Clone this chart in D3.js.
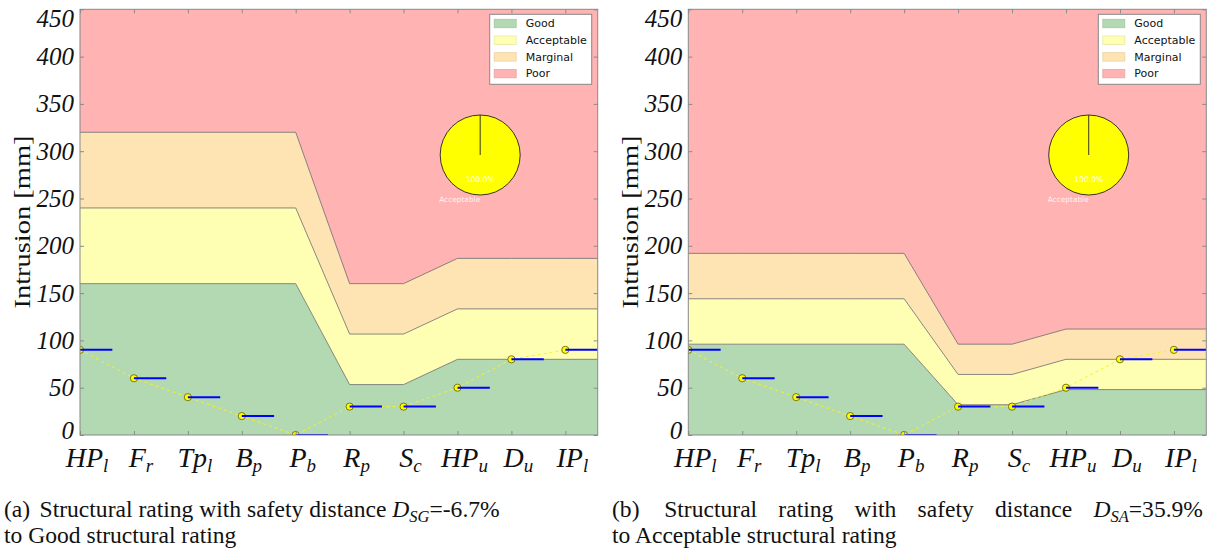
<!DOCTYPE html>
<html>
<head>
<meta charset="utf-8">
<script src="https://cdn.jsdelivr.net/npm/d3@7"></script>
<style>
  body { margin: 0; background: #fff; }
  svg { display: block; }
</style>
</head>
<body>
<svg id="chart" width="1221" height="555"></svg>
<script>
// categories as [main letters, subscript]
const categories = [["HP", "l"], ["F", "r"], ["Tp", "l"], ["B", "p"], ["P", "b"],
                    ["R", "p"], ["S", "c"], ["HP", "u"], ["D", "u"], ["IP", "l"]];
// measured intrusion, same in both panels
const intrusion = [90, 60, 40, 20, 0, 30, 30, 50, 80, 90];

// upper limits of the rating bands, panel (a)
const goodA       = [160, 160, 160, 160, 160, 53.3, 53.3, 80, 80, 80];
const acceptableA = [240, 240, 240, 240, 240, 106.7, 106.7, 133.3, 133.3, 133.3];
const marginalA   = [320, 320, 320, 320, 320, 160, 160, 186.7, 186.7, 186.7];
// panel (b)
const goodB       = [96, 96, 96, 96, 96, 32, 32, 48, 48, 48];
const acceptableB = [144, 144, 144, 144, 144, 64, 64, 80, 80, 80];
const marginalB   = [192, 192, 192, 192, 192, 96, 96, 112, 112, 112];

const yTicks = [0, 50, 100, 150, 200, 250, 300, 350, 400, 450];
const ratings = ["Good", "Acceptable", "Marginal", "Poor"];
const ratingColors = ["rgb(179,217,179)", "rgb(255,255,179)", "rgb(255,228,179)", "rgb(255,179,179)"];

// pie insets: share of each rating
const pieLabelsA = ["Acceptable"], pieValuesA = [100];
const pieLabelsB = ["Acceptable"], pieValuesB = [100];

const yMax = 450, xMax = 9.6, segLen = 0.6;
const plotTop = 9.3, plotBottom = 435;
const serif = "Liberation Serif, serif";

const svg = d3.select("#chart");

function drawPanel(p) {
  const x = d3.scaleLinear().domain([0, xMax]).range([p.left, p.right]);
  const y = d3.scaleLinear().domain([0, yMax]).range([plotBottom, plotTop]);
  const g = svg.append("g");

  g.append("clipPath").attr("id", "clip-" + p.id)
    .append("rect")
    .attr("x", p.left).attr("y", plotTop)
    .attr("width", p.right - p.left).attr("height", plotBottom - plotTop);
  const plot = g.append("g").attr("clip-path", "url(#clip-" + p.id + ")");

  // bands run flat from the last category to the right edge
  const xs = categories.map((c, i) => i).concat([xMax]);
  const ext = arr => arr.concat([arr[arr.length - 1]]);
  const levels = [xs.map(() => 0), ext(p.good), ext(p.acceptable), ext(p.marginal), xs.map(() => yMax)];

  const area = d3.area().x(d => x(d.x)).y0(d => y(d.lo)).y1(d => y(d.hi));
  ratings.forEach((r, k) => {
    const rows = xs.map((xv, i) => ({ x: xv, lo: levels[k][i], hi: levels[k + 1][i] }));
    plot.append("path").datum(rows).attr("fill", ratingColors[k]).attr("d", area);
  });

  const line = d3.line().x(d => x(d[0])).y(d => y(d[1]));
  [1, 2, 3].forEach(k => {
    plot.append("path")
      .datum(xs.map((xv, i) => [xv, levels[k][i]]))
      .attr("fill", "none").attr("stroke", "#6b6b6b").attr("stroke-width", 0.8)
      .attr("d", line);
  });

  // dashed yellow line through the measurements
  plot.append("path")
    .datum(intrusion.map((v, i) => [i, v]))
    .attr("fill", "none").attr("stroke", "#f2f230").attr("stroke-width", 1)
    .attr("stroke-dasharray", "3,3")
    .attr("d", line);

  plot.selectAll("circle.pt").data(intrusion).join("circle")
    .attr("class", "pt")
    .attr("cx", (v, i) => x(i)).attr("cy", v => y(v)).attr("r", 3.6)
    .attr("fill", "#ffff00").attr("stroke", "#6d6d00").attr("stroke-width", 0.9);

  plot.selectAll("line.seg").data(intrusion).join("line")
    .attr("class", "seg")
    .attr("x1", (v, i) => x(i)).attr("x2", (v, i) => x(i + segLen))
    .attr("y1", v => y(v)).attr("y2", v => y(v))
    .attr("stroke", "#0000ff").attr("stroke-width", 2);

  // axes, ticks pointing inward
  const tickCol = "#8a8a8a";
  const styleAxis = sel => {
    sel.select(".domain").remove();
    sel.selectAll(".tick line").attr("stroke", tickCol);
  };
  g.append("g").attr("transform", `translate(0,${plotBottom})`)
    .call(d3.axisBottom(x).tickValues(d3.range(categories.length)).tickSize(-4).tickFormat(() => ""))
    .call(styleAxis);
  g.append("g").attr("transform", `translate(0,${plotTop})`)
    .call(d3.axisTop(x).tickValues(d3.range(categories.length)).tickSize(-4).tickFormat(() => ""))
    .call(styleAxis);
  g.append("g").attr("transform", `translate(${p.right},0)`)
    .call(d3.axisRight(y).tickValues(yTicks).tickSize(-4).tickFormat(() => ""))
    .call(styleAxis);
  const yAxis = g.append("g").attr("transform", `translate(${p.left},0)`)
    .call(d3.axisLeft(y).tickValues(yTicks).tickSize(-4).tickPadding(6))
    .call(styleAxis);
  yAxis.selectAll(".tick text")
    .attr("font-family", serif)
    .attr("font-style", "italic")
    .attr("font-size", 25)
    .attr("fill", "#111")
    .attr("y", d => d === yMax ? 9 : d === 0 ? -5 : 0);

  g.append("rect")
    .attr("x", p.left).attr("y", plotTop)
    .attr("width", p.right - p.left).attr("height", plotBottom - plotTop)
    .attr("fill", "none").attr("stroke", "#888").attr("stroke-width", 1);

  // category labels with subscripts
  const xl = g.selectAll("text.xl").data(categories).join("text")
    .attr("class", "xl")
    .attr("x", (c, i) => x(i) + 7).attr("y", 467)
    .attr("text-anchor", "middle")
    .attr("font-family", serif)
    .attr("font-style", "italic")
    .attr("font-size", 28)
    .attr("fill", "#111");
  xl.append("tspan").text(c => c[0]);
  xl.append("tspan").attr("font-size", 19).attr("dy", 5).text(c => c[1]);

  g.append("text")
    .attr("transform", `translate(${p.left - 50},222) rotate(-90)`)
    .attr("text-anchor", "middle")
    .attr("font-family", serif)
    .attr("font-size", 24)
    .attr("textLength", 173).attr("lengthAdjust", "spacingAndGlyphs")
    .attr("fill", "#111")
    .text("Intrusion [mm]");

  // legend
  const lgW = 102, lgH = 70;
  const lg = g.append("g").attr("transform", `translate(${p.right - 6 - lgW},${plotTop + 5})`);
  lg.append("rect").attr("width", lgW).attr("height", lgH)
    .attr("fill", "#fff").attr("stroke", "#888").attr("stroke-width", 1);
  ratings.forEach((r, k) => {
    const cy = 9.2 + k * 16.7;
    lg.append("rect").attr("x", 4.5).attr("y", cy - 4.2).attr("width", 22).attr("height", 8.4)
      .attr("fill", ratingColors[k]).attr("stroke", d3.color(ratingColors[k]).darker(0.25)).attr("stroke-width", 0.8);
    lg.append("text").attr("x", 36).attr("y", cy).attr("dy", "0.35em")
      .attr("font-family", "DejaVu Sans, sans-serif").attr("font-size", 11)
      .attr("fill", "#111").text(r);
  });

  // pie inset
  const r = 40;
  const pg = g.append("g").attr("transform",
    `translate(${p.left + 0.773 * (p.right - p.left)},155)`);
  const pieData = d3.pie().sort(null).startAngle(0).endAngle(2 * Math.PI)(p.pieValues);
  const pieColor = d3.scaleOrdinal().domain(ratings).range(["#00ff00", "#ffff00", "#ffa500", "#ff0000"]);
  pieData.forEach((d, i) => {
    pg.append("path")
      .attr("d", d3.arc().innerRadius(0).outerRadius(r)(d))
      .attr("fill", pieColor(p.pieLabels[i])).attr("stroke", "#222").attr("stroke-width", 0.9);
    const e = d3.pointRadial(d.startAngle, r);
    pg.append("line").attr("x1", 0).attr("y1", 0).attr("x2", e[0]).attr("y2", e[1])
      .attr("stroke", "#222").attr("stroke-width", 0.9);
    const mid = (d.startAngle + d.endAngle) / 2;
    const pc = d3.pointRadial(mid, 0.6 * r);
    pg.append("text").attr("x", pc[0]).attr("y", pc[1]).attr("dy", "0.35em")
      .attr("text-anchor", "middle")
      .attr("font-family", "DejaVu Sans, sans-serif").attr("font-size", 7.6)
      .attr("fill", "#fff")
      .text((100 * d.value / d3.sum(p.pieValues)).toFixed(1) + "%");
    const lp = d3.pointRadial(mid, 1.1 * r);
    pg.append("text").attr("x", lp[0]).attr("y", lp[1]).attr("dy", "0.35em")
      .attr("text-anchor", Math.sin(mid) > 1e-9 ? "start" : "end")
      .attr("font-family", "DejaVu Sans, sans-serif").attr("font-size", 7.4)
      .attr("fill", "#fff").attr("fill-opacity", 0.85)
      .text(p.pieLabels[i]);
  });
}

drawPanel({ id: "a", left: 80, right: 597.7, good: goodA, acceptable: acceptableA, marginal: marginalA,
            pieLabels: pieLabelsA, pieValues: pieValuesA });
drawPanel({ id: "b", left: 688.3, right: 1206.3, good: goodB, acceptable: acceptableB, marginal: marginalB,
            pieLabels: pieLabelsB, pieValues: pieValuesB });

// captions (LaTeX subcaptions, panel b's first line is justified)
const tagGap = 0.4; // gap after "(a)" in em
function captionLine(x0, yb, fs, tag, sub, value) {
  const t = svg.append("text").attr("x", x0).attr("y", yb)
    .attr("font-family", serif).attr("font-size", fs).attr("fill", "#111");
  t.append("tspan").text(tag);
  t.append("tspan").attr("class", "gap").attr("dx", fs * tagGap).text("Structural rating with safety distance ");
  t.append("tspan").attr("font-style", "italic").text("D");
  t.append("tspan").attr("font-style", "italic").attr("font-size", fs * 0.7).attr("dy", fs * 0.2).text(sub);
  t.append("tspan").attr("dy", -fs * 0.2).text("=" + value);
  return t;
}
// text length does not count the dx gap, so add it back
const width = (t, fs) => t.node().getComputedTextLength() + fs * tagGap;
const probe = captionLine(4, 517, 22, "(a)", "SG", "-6.7%");
const capFs = 22 * 496 / width(probe, 22);
probe.remove();

captionLine(4, 517, capFs, "(a)", "SG", "-6.7%");
svg.append("text").attr("x", 4).attr("y", 543)
  .attr("font-family", serif).attr("font-size", capFs).attr("fill", "#111")
  .text("to Good structural rating");

const capB = captionLine(612, 517, capFs, "(b)", "SA", "35.9%");
const extra = 591 - width(capB, capFs);
if (extra > 0) {
  // 5 word gaps plus the gap after the tag
  capB.attr("word-spacing", extra / 6);
  capB.select(".gap").attr("dx", capFs * tagGap + extra / 6);
}
svg.append("text").attr("x", 612).attr("y", 543)
  .attr("font-family", serif).attr("font-size", capFs).attr("fill", "#111")
  .text("to Acceptable structural rating");
</script>
</body>
</html>
